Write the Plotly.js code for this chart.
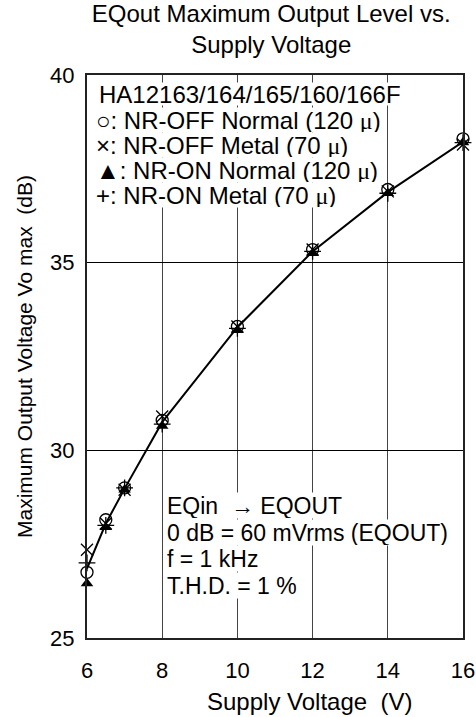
<!DOCTYPE html>
<html>
<head>
<meta charset="utf-8">
<script src="https://cdn.plot.ly/plotly-3.0.1.min.js"></script>
<style>html,body{margin:0;padding:0;background:#fff;}#chart{width:476px;height:717px;}</style>
</head>
<body>
<div id="chart"></div>
<script>
// Supply voltage (V)
const supplyVoltage = [6, 6.5, 7, 8, 10, 12, 14, 16];
// Maximum output voltage Vo max (dB)
const nrOffNormal = [26.75, 28.15, 29.0, 30.8, 33.3, 35.35, 36.95, 38.3];
const nrOffMetal  = [27.35, 28.05, 28.95, 30.9, 33.3, 35.35, 36.9, 38.15];
const nrOnNormal  = [26.45, 27.95, 28.95, 30.65, 33.2, 35.25, 36.85, 38.2];
const nrOnMetal   = [27.0, 28.0, 29.0, 30.7, 33.25, 35.3, 36.85, 38.2];
const curve       = [26.85, 28.05, 28.98, 30.75, 33.28, 35.3, 36.88, 38.22];
const xTicks = [6, 8, 10, 12, 14, 16];
const yTicks = [25, 30, 35, 40];

const FONT = 'Liberation Sans, Arial, sans-serif';
const MU = '<span style="font-family:Liberation Serif">μ</span>';

const traces = [
  {x: supplyVoltage, y: curve, mode: 'lines', line: {color: '#000', width: 2}, name: 'curve', cliponaxis: false},
  {x: supplyVoltage, y: nrOffNormal, mode: 'markers', name: 'NR-OFF Normal (120 μ)', cliponaxis: false,
   marker: {symbol: 'circle-open', size: 12, color: '#000', line: {width: 1.3}}},
  {x: supplyVoltage, y: nrOffMetal, mode: 'markers', name: 'NR-OFF Metal (70 μ)', cliponaxis: false,
   marker: {symbol: 'x-thin-open', size: 12, color: '#000', line: {width: 1.3}}},
  {x: supplyVoltage, y: nrOnNormal, mode: 'markers', name: 'NR-ON Normal (120 μ)', cliponaxis: false,
   marker: {symbol: 'triangle-up', size: 11, color: '#000', line: {width: 0}}},
  {x: supplyVoltage, y: nrOnMetal, mode: 'markers', name: 'NR-ON Metal (70 μ)', cliponaxis: false,
   marker: {symbol: 'cross-thin-open', size: 12, color: '#000', line: {width: 1.3}}}
];

const L = 86.5, R = 463.5, T = 75, B = 638;
const W = R - L, H = B - T;
function px(xp){ return (xp - L) / W; }
function py(yp){ return (B - yp) / H; }

function note(text, xp, yp, size, h){
  return {text: text, xref: 'paper', yref: 'paper', x: px(xp), y: py(yp),
    xanchor: 'left', yanchor: 'middle', showarrow: false, bgcolor: '#fff',
    borderpad: 0, height: h, align: 'left', valign: 'middle',
    font: {family: FONT, size: size, color: '#000'}};
}

const annotations = [
  note('HA12163/164/165/160/166F', 98, 94, 24, 22),
  note('○: NR-OFF Normal (120 ' + MU + ')', 95, 120, 24, 24),
  note('×: NR-OFF Metal (70 ' + MU + ')', 95, 145, 24, 24),
  note('▲: NR-ON Normal (120 ' + MU + ')', 95, 170, 24, 24),
  note('+: NR-ON Metal (70 ' + MU + ')', 95, 195, 24, 24),
  note('EQin  → EQOUT', 166, 505, 23, 25),
  note('0 dB = 60 mVrms (EQOUT)', 166, 532, 23, 25),
  note('f = 1 kHz', 166, 558, 23, 25),
  note('T.H.D. = 1 %', 166, 585, 23, 25),
  {text: 'Supply Voltage\u00a0 (V)', xref: 'paper', yref: 'paper', x: px(310), y: py(701),
   xanchor: 'center', yanchor: 'middle', showarrow: false,
   font: {family: FONT, size: 24, color: '#000'}}
];

const layout = {
  width: 476, height: 717,
  margin: {l: L, r: 476 - R, t: T, b: 717 - B, pad: 0},
  paper_bgcolor: '#fff', plot_bgcolor: '#fff',
  showlegend: false,
  font: {family: FONT, color: '#000'},
  title: {text: 'EQout Maximum Output Level vs.<br>Supply Voltage',
    font: {family: FONT, size: 24, color: '#000'},
    xref: 'paper', x: 0.49, xanchor: 'center', yref: 'container', y: 0.969, yanchor: 'top'},
  xaxis: {range: [6, 16], tickvals: xTicks, ticktext: xTicks.map(String),
    showgrid: true, gridcolor: '#444', gridwidth: 1, zeroline: false,
    showline: true, mirror: true, linecolor: '#222', linewidth: 2, ticks: '',
    ticklabelstandoff: 12,
    tickfont: {family: FONT, size: 22, color: '#000'}},
  yaxis: {range: [25, 40], tickvals: yTicks, ticktext: yTicks.map(String),
    showgrid: true, gridcolor: '#000', gridwidth: 1, zeroline: false,
    showline: true, mirror: true, linecolor: '#222', linewidth: 2, ticks: '',
    ticklabelstandoff: 6,
    tickfont: {family: FONT, size: 22, color: '#000'},
    title: {text: 'Maximum Output Voltage Vo max\u00a0 (dB)', font: {family: FONT, size: 21, color: '#000'}, standoff: 12}},
  annotations: annotations
};

Plotly.newPlot('chart', traces, layout, {displayModeBar: false, staticPlot: true});
</script>
</body>
</html>
